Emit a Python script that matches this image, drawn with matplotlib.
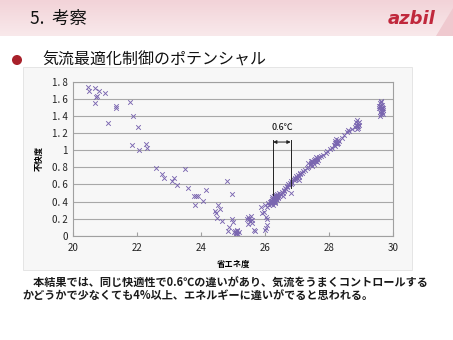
import numpy as np
import matplotlib
matplotlib.use("Agg")
import matplotlib.pyplot as plt
from matplotlib.patches import Rectangle, Polygon, Circle

plt.rcParams['font.family'] = ['Noto Sans CJK JP', 'DejaVu Sans']

# --- data ---
# left (descending) branch
x_left = [20.47, 20.50, 20.68, 20.81, 20.75, 20.71, 21.00, 20.69, 21.34, 21.34,
          21.08, 21.78, 21.86, 22.02, 21.85, 22.04, 22.26, 22.30, 22.60, 22.77,
          22.83, 23.10, 23.16, 23.23, 23.49, 23.58, 23.77, 23.84, 23.82, 23.91,
          24.07, 24.15, 24.42, 24.46, 24.53, 24.50, 24.60, 24.65, 24.80, 24.97,
          24.97, 25.00, 24.87, 24.84]
y_left = [1.745, 1.69, 1.73, 1.69, 1.64, 1.62, 1.67, 1.55, 1.515, 1.49,
          1.32, 1.56, 1.40, 1.27, 1.06, 1.00, 1.07, 1.03, 0.79, 0.72,
          0.67, 0.64, 0.68, 0.59, 0.78, 0.555, 0.465, 0.47, 0.36, 0.46,
          0.41, 0.54, 0.29, 0.27, 0.36, 0.21, 0.31, 0.17, 0.64, 0.485,
          0.195, 0.165, 0.105, 0.055]

# bottom region around the minimum
x_bottom = [25.03, 25.07, 25.10, 25.12, 25.15, 25.08, 25.18, 25.05, 25.13,
            25.42, 25.47, 25.52, 25.55, 25.50, 25.60, 25.58, 25.65, 25.46,
            25.88, 25.90, 25.97, 26.02, 26.07, 26.07, 26.02, 25.67, 26.00]
y_bottom = [0.04, 0.06, 0.03, 0.05, 0.02, 0.02, 0.04, 0.01, 0.07,
            0.20, 0.22, 0.17, 0.23, 0.19, 0.18, 0.15, 0.065, 0.14,
            0.34, 0.26, 0.28, 0.22, 0.20, 0.125, 0.087, 0.055, 0.07]

# right (rising) branch
x_right = [26.00, 26.05, 26.10, 26.12, 26.15,
           26.18, 26.20, 26.22, 26.24, 26.25, 26.27, 26.28, 26.30, 26.31, 26.33,
           26.35, 26.36, 26.38, 26.40, 26.22, 26.26, 26.29, 26.32, 26.34, 26.19,
           26.23, 26.27, 26.30, 26.37, 26.42, 26.45, 26.21, 26.25, 26.33, 26.39,
           26.48, 26.52, 26.55, 26.58, 26.60, 26.62, 26.65, 26.68, 26.70, 26.72,
           26.75, 26.78, 26.80, 26.82, 26.85, 26.88, 26.90, 26.92, 26.95, 26.98,
           27.00, 27.02, 27.05, 27.08, 27.10, 27.15, 27.20, 26.80, 26.55, 27.05,
           27.25, 27.30, 27.35, 27.40, 27.43, 27.45, 27.48, 27.50, 27.52, 27.55,
           27.57, 27.60, 27.62, 27.65, 27.68, 27.47, 27.53, 27.58, 27.44, 27.63, 27.35,
           27.75, 27.82, 27.90, 27.95, 28.02, 28.08,
           28.15, 28.18, 28.20, 28.22, 28.25, 28.27, 28.30, 28.19, 28.24, 28.28, 28.21,
           28.40, 28.48, 28.56, 28.62, 28.72, 28.58,
           28.82, 28.85, 28.88, 28.90, 28.92, 28.95, 28.84, 28.87, 28.91, 28.94, 28.89,
           29.55, 29.58, 29.60, 29.62, 29.63, 29.65, 29.67, 29.70, 29.58, 29.61,
           29.64, 29.66, 29.68, 29.57, 29.62, 29.69, 29.60, 29.65]
y_right = [0.36, 0.34, 0.38, 0.36, 0.40,
           0.39, 0.41, 0.38, 0.42, 0.44, 0.40, 0.43, 0.45, 0.41, 0.44,
           0.46, 0.42, 0.47, 0.45, 0.43, 0.39, 0.46, 0.40, 0.48, 0.37,
           0.45, 0.47, 0.38, 0.49, 0.47, 0.50, 0.41, 0.36, 0.43, 0.44,
           0.49, 0.51, 0.50, 0.54, 0.52, 0.56, 0.55, 0.58, 0.57, 0.60,
           0.59, 0.62, 0.60, 0.64, 0.62, 0.66, 0.65, 0.68, 0.66, 0.70,
           0.68, 0.71, 0.69, 0.73, 0.72, 0.74, 0.76, 0.50, 0.46, 0.65,
           0.77, 0.79, 0.81, 0.83, 0.85, 0.84, 0.87, 0.86, 0.89, 0.88,
           0.90, 0.87, 0.91, 0.89, 0.92, 0.82, 0.84, 0.92, 0.88, 0.86, 0.85,
           0.93, 0.95, 0.97, 0.99, 1.01, 1.03,
           1.06, 1.08, 1.05, 1.10, 1.09, 1.12, 1.11, 1.11, 1.07, 1.08, 1.13,
           1.15, 1.18, 1.21, 1.23, 1.25, 1.24,
           1.27, 1.30, 1.28, 1.32, 1.29, 1.33, 1.33, 1.25, 1.26, 1.30, 1.35,
           1.50, 1.55, 1.52, 1.48, 1.56, 1.45, 1.50, 1.47, 1.45, 1.58,
           1.43, 1.53, 1.42, 1.52, 1.46, 1.49, 1.40, 1.51]

x_ticks = [20, 22, 24, 26, 28, 30]
y_ticks = [0, 0.2, 0.4, 0.6, 0.8, 1, 1.2, 1.4, 1.6, 1.8]
y_ticklabels = ["0", "0. 2", "0. 4", "0. 6", "0. 8", "1", "1. 2", "1. 4", "1. 6", "1. 8"]
span_x = [26.25, 26.8]   # the 0.6 deg gap

fig = plt.figure(figsize=(4.53, 3.4), dpi=100)

# slide background: header band, logo
bg = fig.add_axes([0, 0, 1, 1])
bg.set_xlim(0, 453)
bg.set_ylim(340, 0)
bg.axis("off")
grad = np.linspace(0, 1, 50).reshape(-1, 1)
bg.imshow(grad, extent=[0, 453, 36, 0], aspect="auto",
          cmap=matplotlib.colors.LinearSegmentedColormap.from_list("p", ["#f2d3d8", "#f9e9eb"]))
bg.add_patch(Polygon([[436, 36], [453, 8], [453, 36]], closed=True, color="#efc9cf", lw=0))
bg.text(30, 19, "5.  考察", fontsize=12.5, va="center", ha="left", color="#111111")
bg.text(412, 19, "azbil", fontsize=13, fontweight="bold", style="italic",
        color="#c0283c", va="center", ha="center", family="DejaVu Sans")
bg.add_patch(Circle((17, 60), 4.3, color="#a8202a"))
bg.text(42, 60, "気流最適化制御のポテンシャル", fontsize=11.5, va="center", ha="left",
        color="#111111")
bg.add_patch(Rectangle((23, 67), 389, 203, facecolor="#f7f7f7", edgecolor="#e2e2e2", lw=0.6))
bg.text(22, 283, "　本結果では、同じ快適性で0.6℃の違いがあり、気流をうまくコントロールする",
        fontsize=8, fontweight="bold", va="center", ha="left", color="#1a1a1a")
bg.text(22, 296, "かどうかで少なくても4%以上、エネルギーに違いがでると思われる。",
        fontsize=8, fontweight="bold", va="center", ha="left", color="#1a1a1a")

# --- scatter chart ---
ax = fig.add_axes([0.1618, 0.3068, 0.7057, 0.452])
ax.set_facecolor("#f7f7f7")
mk = dict(marker="x", s=11, color="#7a66b0", linewidths=0.65)
ax.scatter(x_left, y_left, **mk)
ax.scatter(x_bottom, y_bottom, **mk)
ax.scatter(x_right, y_right, **mk)

ax.set_xlim(20, 30)
ax.set_ylim(0, 1.8)
ax.set_xticks(x_ticks)
ax.set_yticks(y_ticks)
ax.set_yticklabels(y_ticklabels)
ax.yaxis.grid(True, color="#a8a8a8", lw=0.8)
ax.set_axisbelow(True)
for sp in ax.spines.values():
    sp.set_color("#a0a0a0")
    sp.set_linewidth(0.8)
ax.tick_params(axis="both", labelsize=7, length=0, pad=4, colors="#222222")
ax.tick_params(axis="x", length=3, direction="in", color="#a0a0a0", pad=5)
ax.set_xlabel("省エネ度", fontsize=6, fontweight="bold", labelpad=5)
ax.set_ylabel("不快度", fontsize=6, fontweight="bold", labelpad=6)

# 0.6 deg annotation
ax.plot([span_x[0], span_x[0]], [1.12, 0.475], color="#222222", lw=0.7)
ax.plot([span_x[1], span_x[1]], [1.12, 0.555], color="#222222", lw=0.7)
ax.annotate("", xy=(span_x[0], 1.097), xytext=(span_x[1], 1.097),
            arrowprops=dict(arrowstyle="<|-|>", color="#222222", lw=0.7,
                            mutation_scale=5, shrinkA=0, shrinkB=0))
ax.text(sum(span_x) / 2, 1.27, "0.6℃", fontsize=6.5, ha="center", va="center")

fig.savefig("out.png", dpi=100)
